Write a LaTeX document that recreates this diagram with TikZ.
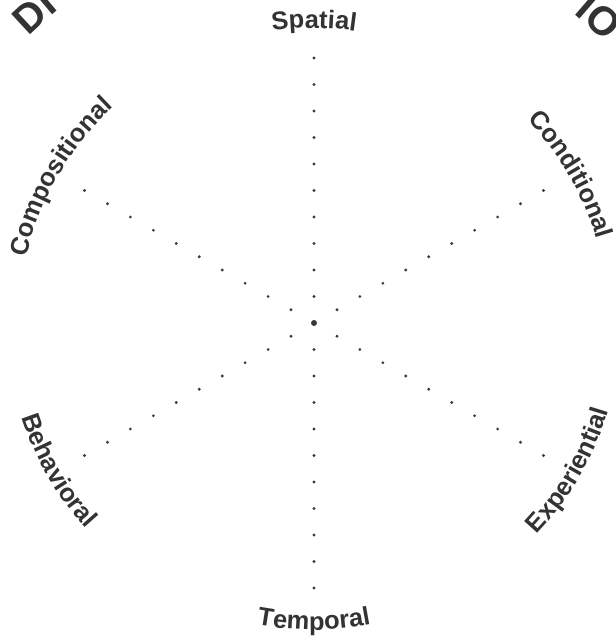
\documentclass[tikz,border=0pt]{standalone}
\usepackage{fontspec}
\setmainfont{Liberation Sans}
\usepackage{xcolor}
\usetikzlibrary{decorations.text}
\definecolor{ink}{HTML}{333333}
\definecolor{dotgray}{HTML}{3A3A3A}
\newcommand{\dimlabelfont}{\fontsize{14.5}{17}\selectfont\bfseries\color{ink}}
\newcommand{\dimtitlefont}{\fontsize{23}{26}\selectfont\bfseries\color{ink}}
\tikzset{
  raydot/.style={circle,fill=dotgray,inner sep=0pt,minimum size=1.8pt},
  hubdot/.style={circle,fill=dotgray,inner sep=0pt,minimum size=3.4pt},
  outerlabel/.style={decorate,decoration={text along path,text align=center,
                     text={|\dimlabelfont|#1}}},
  innerlabel/.style={decorate,decoration={text along path,text align=center,
                     text={|\dimlabelfont|#1}}},
  titlearc/.style={decorate,decoration={text along path,text align=center,
                   text={|\dimtitlefont|#1}}}
}

\begin{document}
\begin{tikzpicture}[x=0.02cm,y=0.02cm]
    \path[use as bounding box] (-314,-319) rectangle (301,323);
    \clip (-314,-319) rectangle (301,323);

    % title on the big arc, mostly cut off
    \path[titlearc={DI}] (150:404) arc[start angle=150,end angle=114,radius=8.08cm];
    \path[titlearc={IO}] (65:404) arc[start angle=65,end angle=29,radius=8.08cm];

    % hub and six dotted rays
    \node[hubdot] (hub) at (0,0) {};
    \foreach \a in {90,30,-30,-90,-150,150}
      \foreach \k in {1,...,10}
        \node[raydot] (dot\a-\k) at (\a:\k*26.5) {};

    % dimension names, upper half read clockwise
    \path[outerlabel={Spatial}] (115:295) arc[start angle=115,end angle=65,radius=5.9cm];
    \path[outerlabel={Compositional}] (175:295) arc[start angle=175,end angle=125,radius=5.9cm];
    \path[outerlabel={Conditional}] (55:295) arc[start angle=55,end angle=5,radius=5.9cm];
    % lower half read counter-clockwise
    \path[innerlabel={Temporal}] (245:307) arc[start angle=245,end angle=295,radius=6.14cm];
    \path[innerlabel={Behavioral}] (185:307) arc[start angle=185,end angle=235,radius=6.14cm];
    \path[innerlabel={Experiential}] (305:307) arc[start angle=305,end angle=355,radius=6.14cm];
\end{tikzpicture}
\end{document}
